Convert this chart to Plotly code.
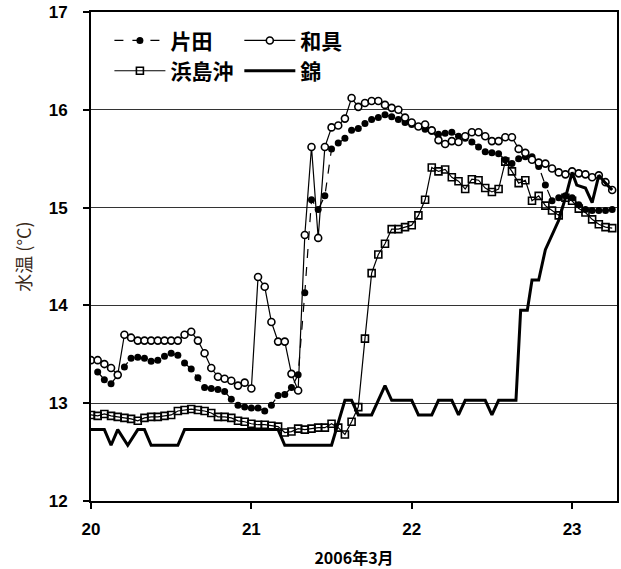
import plotly.graph_objects as go

# hourly data from 2006-03-20 00:00 (hour index 0..78)
hours = list(range(79))

katada = [None, 13.32, 13.24, 13.20, 13.29, 13.37, 13.46, 13.47, 13.46, 13.43,
          13.44, 13.48, 13.51, 13.49, 13.41, 13.35, 13.26, 13.16, 13.15, 13.14,
          13.12, 13.04, 12.98, 12.96, 12.95, 12.95, 12.92, 12.98, 13.08, 13.09,
          13.16, 13.29, 14.13, 15.08, 14.98, 15.12, 15.60, 15.66, 15.71, 15.79,
          15.81, 15.86, 15.90, 15.92, 15.95, 15.93, 15.90, 15.87, 15.85, 15.83,
          15.80, 15.78, 15.75, 15.76, 15.77, 15.73, 15.71, 15.67, 15.62, 15.57,
          15.56, 15.55, 15.49, 15.45, 15.50, 15.52, 15.52, 15.42, 15.23, 15.07,
          15.10, 15.12, 15.10, 15.03, 14.98, 14.97, 14.97, 14.97, 14.98]

wagu = [13.44, 13.44, 13.40, 13.36, 13.29, 13.70, 13.67, 13.64, 13.64, 13.64,
        13.64, 13.64, 13.64, 13.64, 13.70, 13.73, 13.64, 13.51, 13.36, 13.27,
        13.25, 13.23, 13.18, 13.21, 13.15, 14.29, 14.19, 13.83, 13.63, 13.63,
        13.30, 13.13, 14.72, 15.62, 14.69, 15.62, 15.82, 15.84, 15.91, 16.12,
        16.03, 16.07, 16.09, 16.09, 16.05, 16.02, 16.00, 15.92, 15.87, 15.83,
        15.85, 15.79, 15.69, 15.65, 15.68, 15.67, 15.73, 15.77, 15.77, 15.73,
        15.68, 15.68, 15.72, 15.72, 15.60, 15.56, 15.49, 15.46, 15.45, 15.40,
        15.36, 15.34, 15.37, 15.35, 15.34, 15.31, 15.33, 15.26, 15.18]

hamajima = [12.88, 12.87, 12.89, 12.87, 12.86, 12.85, 12.84, 12.82, 12.85, 12.86,
            12.86, 12.87, 12.88, 12.92, 12.93, 12.94, 12.93, 12.92, 12.90, 12.86,
            12.86, 12.85, 12.82, 12.81, 12.79, 12.78, 12.78, 12.77, 12.76, 12.70,
            12.71, 12.74, 12.73, 12.74, 12.75, 12.75, 12.79, 12.75, 12.68, 12.81,
            12.96, 13.66, 14.33, 14.52, 14.63, 14.78, 14.78, 14.80, 14.82, 14.92,
            15.08, 15.41, 15.37, 15.39, 15.31, 15.27, 15.19, 15.29, 15.28, 15.20,
            15.16, 15.19, 15.47, 15.37, 15.25, 15.28, 15.07, 15.12, 15.02, 14.97,
            14.92, 15.10, 15.07, 14.99, 14.95, 14.88, 14.83, 14.80, 14.79]

nishiki_hours = [0, 1, 2, 3, 4, 5.5, 7, 8, 9, 13, 14, 28, 29, 36, 38, 39, 40, 42,
                 44, 45, 48, 49, 51, 52, 54, 55, 56, 59, 60, 61, 63.6, 64.3, 65.3,
                 66, 67, 68, 69, 70, 71, 72, 72.7, 74, 75, 76, 77, 78]
nishiki = [12.73, 12.73, 12.73, 12.57, 12.73, 12.57, 12.73, 12.73, 12.57, 12.57,
           12.73, 12.73, 12.57, 12.57, 13.03, 13.03, 12.88, 12.88, 13.18, 13.03,
           13.03, 12.88, 12.88, 13.03, 13.03, 12.88, 13.03, 13.03, 12.88, 13.03,
           13.03, 13.95, 13.95, 14.26, 14.26, 14.57, 14.72, 14.87, 15.10, 15.36,
           15.23, 15.20, 15.05, 15.33, 15.25, 15.18]

x_ticks = [20, 21, 22, 23]
y_ticks = [12, 13, 14, 15, 16, 17]

start_day = 20
xd = [start_day + h / 24 for h in hours]
xn = [start_day + h / 24 for h in nishiki_hours]

CJK = "Noto Sans CJK JP"
fig = go.Figure()

fig.add_trace(go.Scatter(
    x=xd, y=katada, name="片田", mode="lines+markers",
    line=dict(color="black", width=1.2, dash="dash"),
    marker=dict(symbol="circle", size=7, color="black"),
    legend="legend", legendgroup="a"))
fig.add_trace(go.Scatter(
    x=xd, y=hamajima, name="浜島沖", mode="lines+markers",
    line=dict(color="black", width=1.2),
    marker=dict(symbol="square-open", size=7, color="black", line=dict(width=1.6)),
    legend="legend", legendgroup="b"))
fig.add_trace(go.Scatter(
    x=xd, y=wagu, name="和具", mode="lines+markers",
    line=dict(color="black", width=1.2),
    marker=dict(symbol="circle", size=7, color="white", line=dict(color="black", width=1.6)),
    legend="legend2", legendgroup="c"))
fig.add_trace(go.Scatter(
    x=xn, y=nishiki, name="錦", mode="lines",
    line=dict(color="black", width=3),
    legend="legend2", legendgroup="d"))

legend_common = dict(
    font=dict(family=CJK, size=21, color="black", weight="bold"),
    bgcolor="rgba(0,0,0,0)", borderwidth=0, tracegroupgap=7, itemwidth=51,
    yanchor="top", y=0.983, xanchor="left", traceorder="normal",
)
fig.update_layout(
    width=621, height=569,
    margin=dict(l=91, r=4, t=12, b=68),
    paper_bgcolor="white", plot_bgcolor="white",
    showlegend=True,
    legend=dict(x=0.035, **legend_common),
    legend2=dict(x=0.282, **legend_common),
    xaxis=dict(
        range=[20, 23.28], tickvals=x_ticks, ticktext=[str(v) for v in x_ticks],
        showgrid=False, zeroline=False, automargin=False,
        showline=True, linecolor="black", linewidth=2, mirror=True,
        ticks="outside", ticklen=6, tickwidth=1.5, tickcolor="black",
        ticklabelstandoff=6,
        tickfont=dict(family="Liberation Sans", size=17, color="black", weight="bold"),
        title=dict(text="2006年3月", font=dict(family=CJK, size=16, color="black", weight="bold"), standoff=15),
    ),
    yaxis=dict(
        range=[12, 17], tickvals=y_ticks, ticktext=[str(v) for v in y_ticks],
        showgrid=True, gridcolor="#333333", gridwidth=1, zeroline=False, automargin=False,
        showline=True, linecolor="black", linewidth=2, mirror=True,
        ticks="outside", ticklen=6, tickwidth=1.5, tickcolor="black",
        ticklabelstandoff=12,
        tickfont=dict(family="Liberation Sans", size=17, color="black", weight="bold"),
        title=dict(text="水温 (°C)", font=dict(family=CJK, size=18, color="#3a2a1a"), standoff=12),
    ),
)

fig.write_html(
    "out.html",
    config={"displayModeBar": False},
    post_script="document.body.style.margin='0';document.body.style.padding='0';document.body.style.overflow='hidden';",
)
